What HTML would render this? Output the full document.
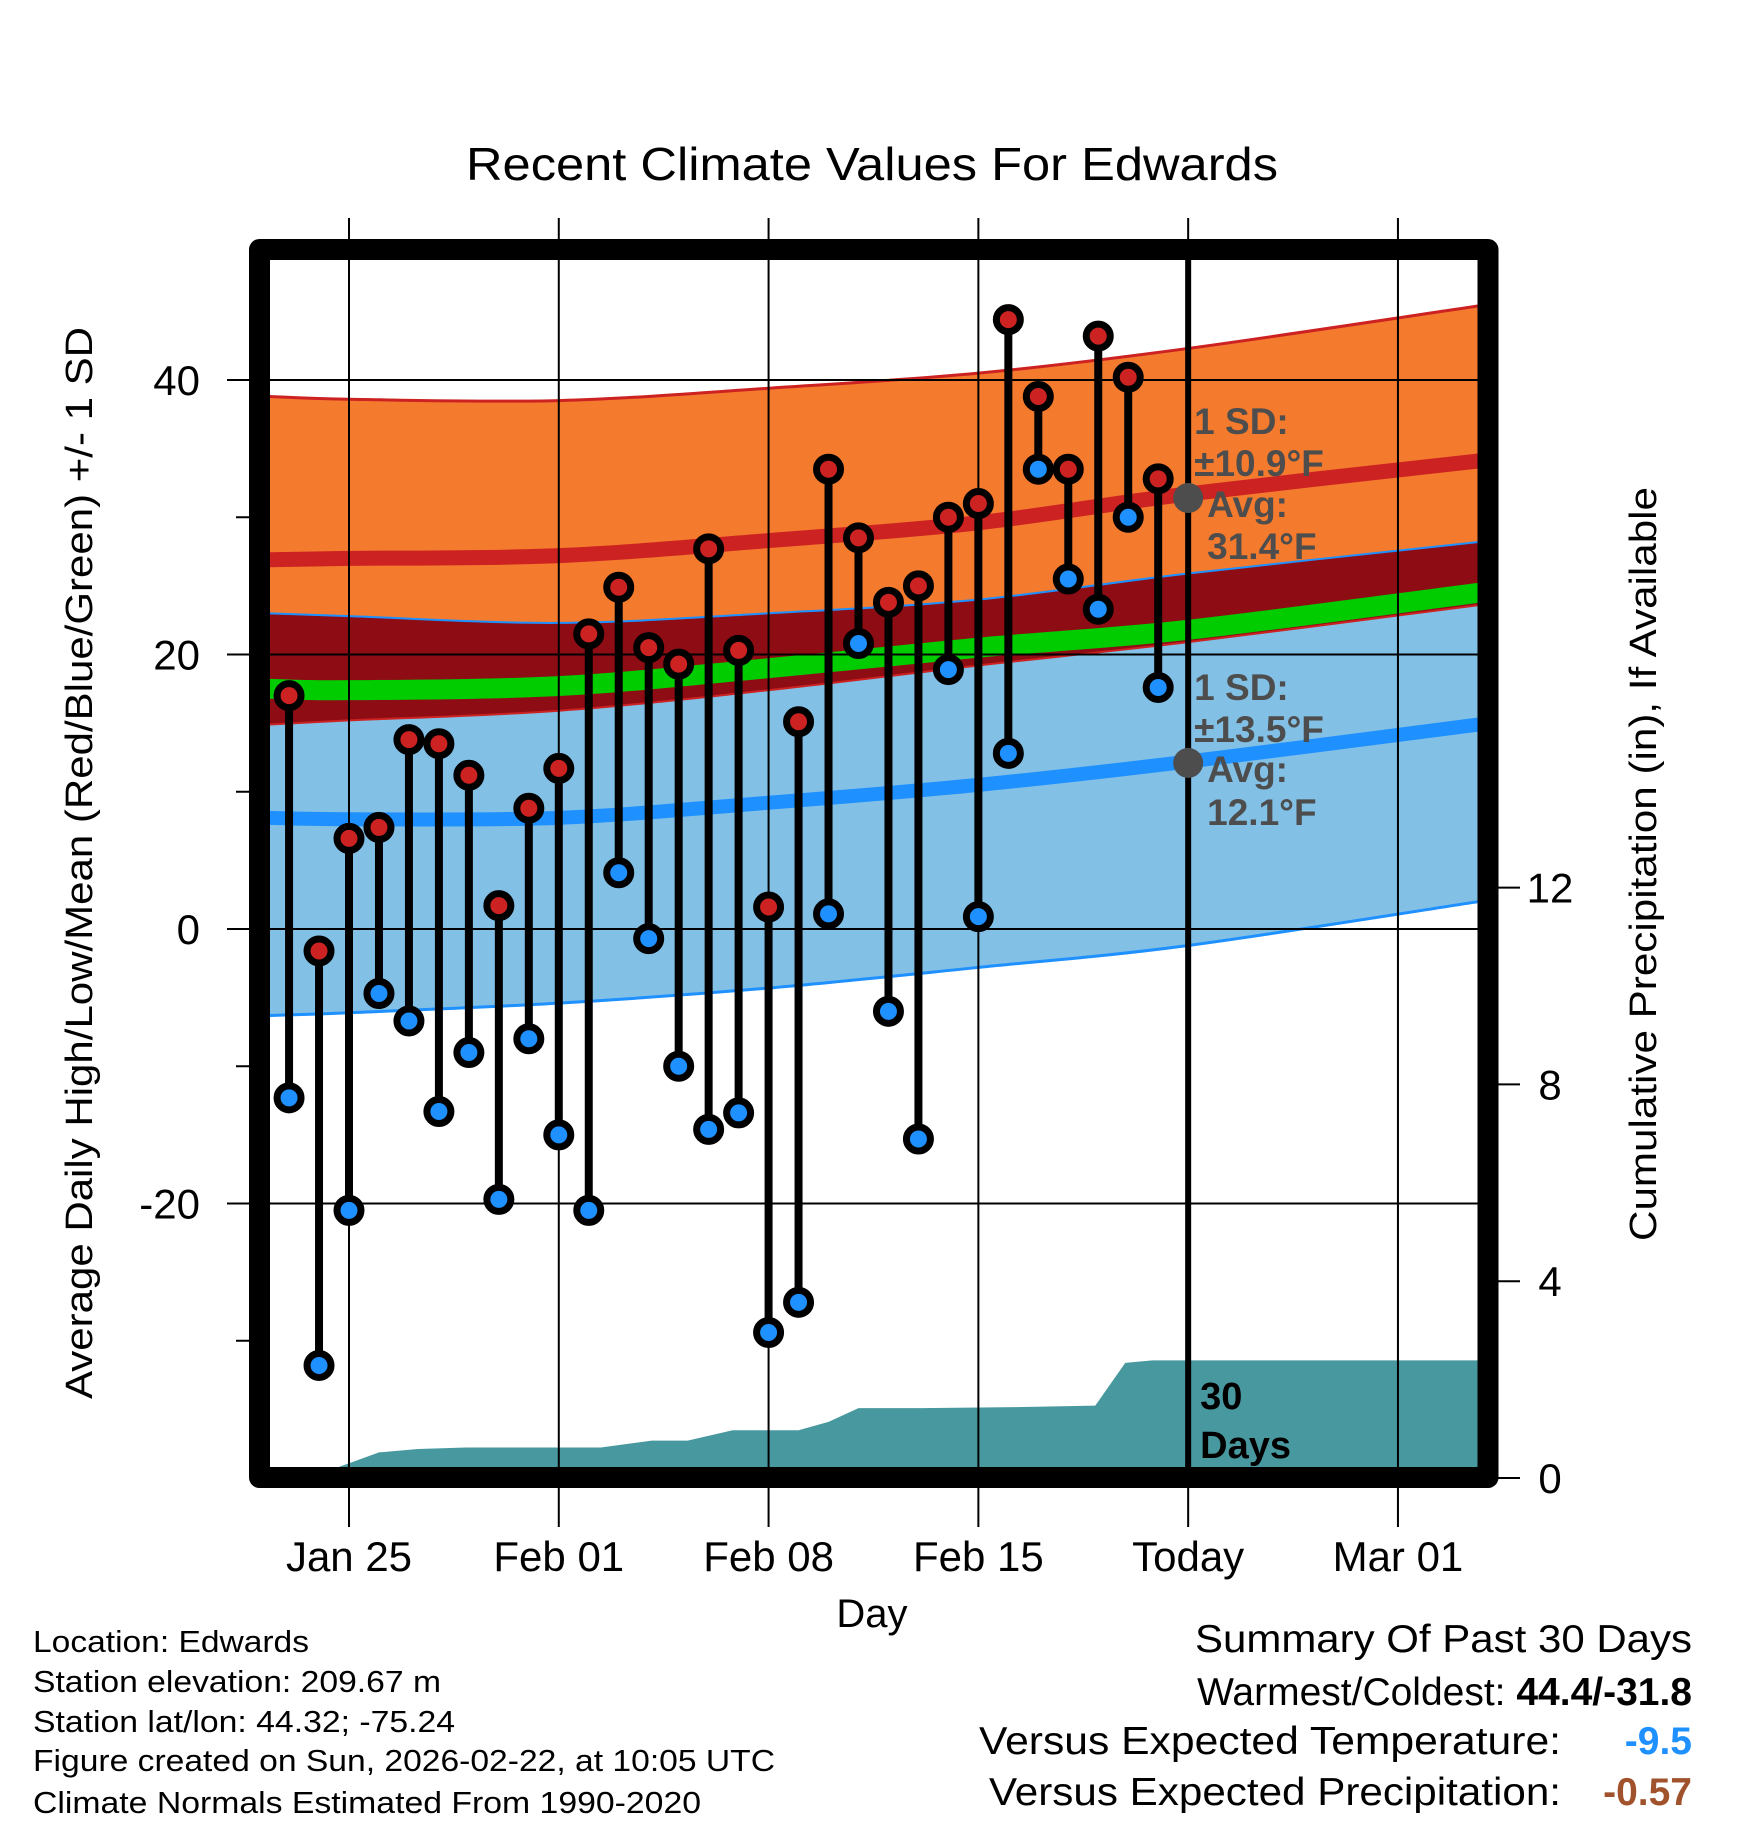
<!DOCTYPE html>
<html><head><meta charset="utf-8"><style>
html,body{margin:0;padding:0;background:#fff;}
svg{display:block;font-family:"Liberation Sans",Arial,sans-serif;}
</style></head><body>
<svg id="chart" width="1748" height="1828" viewBox="0 0 1748 1828" xmlns="http://www.w3.org/2000/svg">
<defs><clipPath id="plotclip"><rect x="260" y="250" width="1228" height="1228"/></clipPath></defs>
<g id="bands" clip-path="url(#plotclip)"></g>
<g id="grid"></g>
<g id="marks" clip-path="url(#plotclip)"></g>
<rect x="259.5" y="249.5" width="1228.5" height="1228" fill="none" stroke="#000" stroke-width="21" stroke-linejoin="round"/>
<g id="axes"></g>
<text x="872" y="180" font-size="46" text-anchor="middle" textLength="812" lengthAdjust="spacingAndGlyphs">Recent Climate Values For Edwards</text>
<text transform="translate(92,863) rotate(-90)" font-size="38" text-anchor="middle" textLength="1072" lengthAdjust="spacingAndGlyphs">Average Daily High/Low/Mean (Red/Blue/Green) +/- 1 SD</text>
<text transform="translate(1656,864) rotate(-90)" font-size="38" text-anchor="middle" textLength="754" lengthAdjust="spacingAndGlyphs">Cumulative Precipitation (in), If Available</text>
<text x="872" y="1627" font-size="40" text-anchor="middle">Day</text>
<g font-size="31">
<text x="33" y="1652" textLength="276" lengthAdjust="spacingAndGlyphs">Location: Edwards</text>
<text x="33" y="1692" textLength="408" lengthAdjust="spacingAndGlyphs">Station elevation: 209.67 m</text>
<text x="33" y="1732" textLength="422" lengthAdjust="spacingAndGlyphs">Station lat/lon: 44.32; -75.24</text>
<text x="33" y="1771" textLength="742" lengthAdjust="spacingAndGlyphs">Figure created on Sun, 2026-02-22, at 10:05 UTC</text>
<text x="33" y="1813" textLength="668" lengthAdjust="spacingAndGlyphs">Climate Normals Estimated From 1990-2020</text>
</g>
<g font-size="39">
<text x="1692" y="1652" text-anchor="end" textLength="497" lengthAdjust="spacingAndGlyphs">Summary Of Past 30 Days</text>
<text x="1692" y="1705" text-anchor="end">Warmest/Coldest: <tspan font-weight="bold">44.4/-31.8</tspan></text>
<text x="1561" y="1754" text-anchor="end" textLength="582" lengthAdjust="spacingAndGlyphs">Versus Expected Temperature:</text>
<text x="1692" y="1754" text-anchor="end" font-weight="bold" fill="#1e90ff">-9.5</text>
<text x="1561" y="1805" text-anchor="end" textLength="572" lengthAdjust="spacingAndGlyphs">Versus Expected Precipitation:</text>
<text x="1692" y="1805" text-anchor="end" font-weight="bold" fill="#a0522d">-0.57</text>
</g>
</svg>
<script>
// climatology (day offsets from Jan 25)
const climDays = [-2.64, 0, 7, 14, 21, 28, 37.7];
const highUpper = [38.8, 38.6, 38.5, 39.4, 40.5, 42.3, 45.4];
const highMean  = [26.9, 27.0, 27.2, 28.3, 29.6, 31.7, 34.1];
const highLower = [14.9, 15.2, 15.9, 17.4, 19.2, 20.9, 23.6];
const lowUpper  = [23.0, 22.8, 22.3, 23.0, 24.0, 25.9, 28.2];
const lowMean   = [8.1, 8.0, 8.1, 9.2, 10.5, 12.2, 14.9];
const lowLower  = [-6.3, -6.1, -5.4, -4.3, -2.8, -1.2, 2.0];
const meanTemp  = [17.5, 17.4, 17.7, 19.0, 20.5, 21.8, 24.5];
// daily observations Jan 23 .. Feb 21
const obsDays = [-2,-1,0,1,2,3,4,5,6,7,8,9,10,11,12,13,14,15,16,17,18,19,20,21,22,23,24,25,26,27];
const highs = [17.0,-1.6,6.6,7.4,13.8,13.5,11.2,1.7,8.8,11.7,21.5,24.9,20.5,19.3,27.7,20.3,1.6,15.1,33.5,28.5,23.8,25.0,30.0,31.0,44.4,38.8,33.5,43.2,40.2,32.8];
const lows  = [-12.3,-31.8,-20.5,-4.7,-6.7,-13.3,-9.0,-19.7,-8.0,-15.0,-20.5,4.1,-0.7,-10.0,-14.6,-13.4,-29.4,-27.2,1.1,20.8,-6.0,-15.3,18.9,0.9,12.8,33.5,25.5,23.3,30.0,17.6];
// cumulative precipitation
const precipDays = [-0.4,1,2.3,3.9,8.4,10.1,11.3,12.8,15,16,17,19.1,22.2,24.9,25.9,26.8,37.8];
const precipVals = [0.21,0.52,0.59,0.62,0.62,0.76,0.76,0.97,0.97,1.14,1.42,1.42,1.44,1.47,2.34,2.39,2.39];
const tempTicks = [40,20,0,-20];
const tempMinor = [30,10,-10,-30];
const precipTicks = [0,4,8,12];
const dateTicks = [0,7,14,21,28,35];
const dateLabels = ["Jan 25","Feb 01","Feb 08","Feb 15","Today","Mar 01"];
const todayDay = 28;
const annHigh = 31.4, annLow = 12.1;

const NS="http://www.w3.org/2000/svg";
const X = d => 349 + d*29.97;
const Y = t => 929 - t*13.725;
const P = p => 1478 - p*49.2;
function mk(tag, attrs, parent){const e=document.createElementNS(NS,tag);for(const k in attrs)e.setAttribute(k,attrs[k]);parent.appendChild(e);return e;}
function smooth(xs, ys){
  let d='M'+xs[0]+','+ys[0];
  for(let i=0;i<xs.length-1;i++){
    const a=Math.max(0,i-1), b=Math.min(xs.length-1,i+2);
    const x0=xs[a],y0=ys[a],x1=xs[i],y1=ys[i],x2=xs[i+1],y2=ys[i+1],x3=xs[b],y3=ys[b];
    d+=' C'+(x1+(x2-x0)/6)+','+(y1+(y2-y0)/6)+' '+(x2-(x3-x1)/6)+','+(y2-(y3-y1)/6)+' '+x2+','+y2;
  }
  return d;
}
function smoothRev(xs, ys){const rx=xs.slice().reverse(), ry=ys.slice().reverse();return smooth(rx,ry).replace(/^M/,'L');}
const cx = climDays.map(X);
const bands=document.getElementById('bands');
function band(up, lo, fill, name){
  const p=mk('path',{d:smooth(cx,up.map(Y))+' '+smoothRev(cx,lo.map(Y))+' Z',fill:fill},bands);
  
  
}
function line(vals, color, w, name){
  const p=mk('path',{d:smooth(cx,vals.map(Y)),fill:'none',stroke:color,'stroke-width':w},bands);
  
  
}
band(highUpper, highLower, '#f47a2e', 'high-sd-band');
band(lowUpper, lowLower, '#82c0e6', 'low-sd-band');
band(lowUpper, highLower, '#8e0c14', 'overlap-band');
line(highUpper,'#cc2222',3,'high-upper-edge');
line(highLower,'#cc2222',2,'high-lower-edge');
line(lowUpper,'#1e90ff',2,'low-upper-edge');
line(lowLower,'#1e90ff',3,'low-lower-edge');
line(meanTemp,'#00cc00',20,'mean-temp-line');
line(highMean,'#cc2222',15,'mean-high-line');
line(lowMean,'#1e90ff',14,'mean-low-line');
let pd='M'+X(precipDays[0])+','+P(0);
precipDays.forEach((d,i)=>{pd+=' L'+X(d)+','+P(precipVals[i]);});
pd+=' L'+X(precipDays[precipDays.length-1])+','+P(0)+' Z';
const pa=mk('path',{d:pd,fill:'#48999f'},bands);



const grid=document.getElementById('grid');
dateTicks.forEach(d=>{
  const l=mk('line',{x1:X(d),x2:X(d),y1:218,y2:1527,stroke:'#000','stroke-width':2},grid);
  
  
});
tempTicks.forEach(t=>{
  const l=mk('line',{x1:227,x2:1478,y1:Y(t),y2:Y(t),stroke:'#000','stroke-width':2},grid);
  
  
});

const marks=document.getElementById('marks');
obsDays.forEach((d,i)=>{
  const g=mk('g',{},marks);
  
  
  mk('line',{x1:X(d),x2:X(d),y1:Y(highs[i]),y2:Y(lows[i]),stroke:'#000','stroke-width':8},g);
  const lc=mk('circle',{cx:X(d),cy:Y(lows[i]),r:12,fill:'#1e90ff',stroke:'#000','stroke-width':7},g);
  
  
  const hc=mk('circle',{cx:X(d),cy:Y(highs[i]),r:12,fill:'#cc2222',stroke:'#000','stroke-width':7},g);
  
  
});
const tl=mk('line',{x1:X(todayDay),x2:X(todayDay),y1:250,y2:1478,stroke:'#000','stroke-width':6},marks);


[annHigh,annLow].forEach(v=>{
  const c=mk('circle',{cx:X(todayDay),cy:Y(v),r:15,fill:'#4d4d4d'},marks);
  
  
});
function txt(parent,x,y,s,attrs){const t=mk('text',Object.assign({x:x,y:y},attrs||{}),parent);t.textContent=s;return t;}
const ann=mk('g',{'font-size':37,'font-weight':'bold',fill:'#4d4d4d'},marks);


const ax0=X(todayDay)+6, ax1=X(todayDay)+19;
txt(ann,ax0,434,'1 SD:');
txt(ann,ax0,476,'±10.9°F');
txt(ann,ax1,517,'Avg:');
txt(ann,ax1,559,'31.4°F');
txt(ann,ax0,700,'1 SD:');
txt(ann,ax0,742,'±13.5°F');
txt(ann,ax1,782,'Avg:');
txt(ann,ax1,825,'12.1°F');
const dl=mk('g',{'font-size':38,'font-weight':'bold',fill:'#000'},marks);


txt(dl,X(todayDay)+12,1409,'30');
txt(dl,X(todayDay)+12,1458,'Days');

const axes=document.getElementById('axes');
tempTicks.forEach(t=>{
  const e=txt(axes,200,Y(t)+15,String(t),{'font-size':42,'text-anchor':'end'});
  
  
});
tempMinor.forEach(t=>{
  const l=mk('line',{x1:236,x2:250,y1:Y(t),y2:Y(t),stroke:'#000','stroke-width':2},axes);
  
  
});
precipTicks.forEach(p=>{
  const l=mk('line',{x1:1498,x2:1520,y1:P(p),y2:P(p),stroke:'#000','stroke-width':2},axes);
  
  
  const e=txt(axes,1550,P(p)+15,String(p),{'font-size':42,'text-anchor':'middle'});
  
  
});
dateTicks.forEach((d,i)=>{
  const e=txt(axes,X(d),1571,dateLabels[i],{'font-size':42,'text-anchor':'middle'});
  
  
});
</script>
</body></html>
